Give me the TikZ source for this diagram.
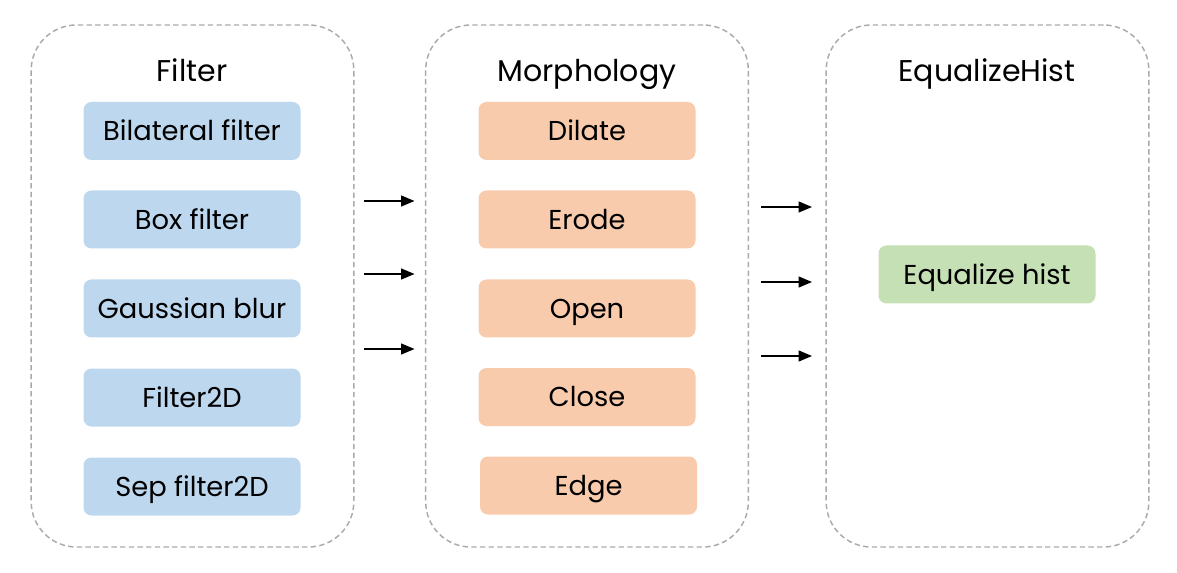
\documentclass[tikz,border=0pt]{standalone}
\usepackage{fontspec}
\setmainfont{Poppins}
\usetikzlibrary{arrows.meta,positioning}
\definecolor{groupline}{RGB}{170,170,170}
\definecolor{filterblue}{RGB}{189,215,238}
\definecolor{morphorange}{RGB}{248,203,173}
\definecolor{histgreen}{RGB}{197,224,180}
\begin{document}
\begin{tikzpicture}[x=0.75pt,y=-0.75pt,
  group/.style={draw=groupline, line width=1.1pt, dash pattern=on 4pt off 2.5pt, rounded corners=34pt, minimum width=242pt, minimum height=391.5pt},
  title/.style={font=\fontsize{22.5}{26}\selectfont, text height=15.7pt, text depth=0pt},
  op/.style={rounded corners=6pt, minimum width=162.75pt, minimum height=43.5pt, font=\fontsize{20.5}{24}\selectfont, text height=14.3pt, text depth=0pt},
  arrow/.style={-{Triangle[length=10pt,width=8pt]}, line width=1.4pt}]
\useasboundingbox (0,0) rectangle (1177,573);
% containers
\node[group] (filter) at (192.5,286) {};
\node[group] (morph) at (587,286) {};
\node[group] (hist) at (987.5,286) {};
\node[title] (filtertitle) at (192,71) {Filter};
\node[title] (morphtitle) at (587,71) {Morphology};
\node[title] (histtitle) at (987,71) {EqualizeHist};
% filter ops
\node[op, fill=filterblue] (bilateral) at (192,131) {Bilateral filter};
\node[op, fill=filterblue] (box) at (192,219.5) {Box filter};
\node[op, fill=filterblue] (gauss) at (192,308.5) {Gaussian blur};
\node[op, fill=filterblue] (filter2d) at (192,397.5) {Filter2D};
\node[op, fill=filterblue] (sepfilter) at (192,486.5) {Sep filter2D};
% morphology ops
\node[op, fill=morphorange] (dilate) at (587,131) {Dilate};
\node[op, fill=morphorange] (erode) at (587,219.5) {Erode};
\node[op, fill=morphorange] (open) at (587,308.5) {Open};
\node[op, fill=morphorange] (close) at (587,397) {Close};
\node[op, fill=morphorange] (edge) at (588.5,485.5) {Edge};
% equalize
\node[op, fill=histgreen] (equalize) at (987,274.5) {Equalize hist};
% arrows
\foreach \y in {201,274,349} \draw[arrow] (filter.east |- 0,\y) ++(9,0) -- ++(51,0);
\foreach \y in {207,282,356} \draw[arrow] (morph.east |- 0,\y) ++(12,0) -- ++(51,0);
\end{tikzpicture}
\end{document}
